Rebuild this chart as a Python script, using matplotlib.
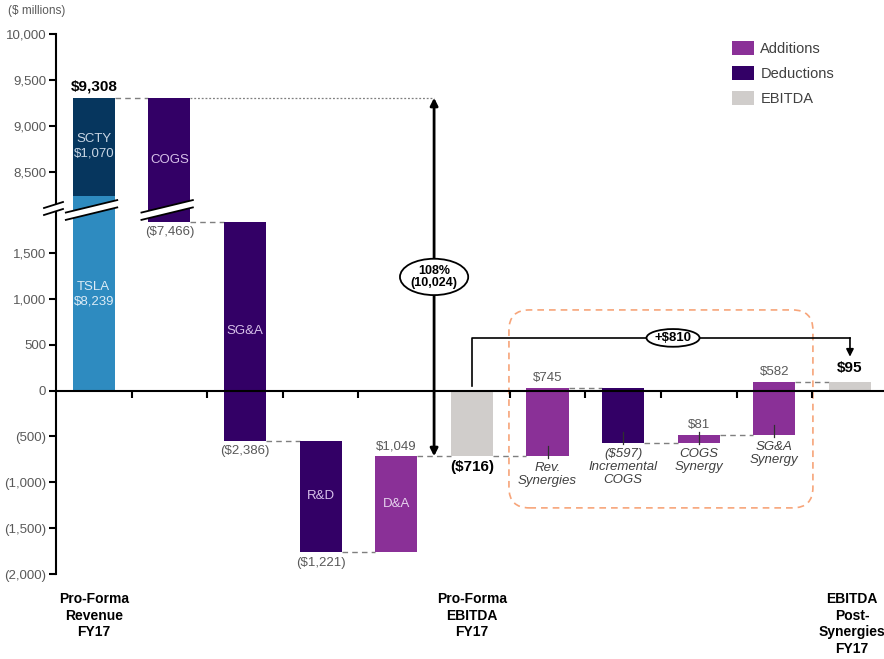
"""
Pro-forma revenue to EBITDA bridge (broken y axis waterfall)
"""

import numpy as np
import matplotlib
matplotlib.use('Agg')
from matplotlib import pyplot as plt
from matplotlib.patches import Patch, FancyBboxPatch, Polygon
from matplotlib.transforms import blended_transform_factory
from matplotlib.ticker import FuncFormatter, NullLocator

plt.rcParams['font.family'] = ['Liberation Sans', 'DejaVu Sans']

###############################################################################
# Data ($ millions)
rev_names = ['TSLA', 'SCTY']
rev_values = [8239, 1070]
rev_total = 9308          # as reported (rounded)
step_names = ['COGS', 'SG&A', 'R&D', 'D&A']
step_values = [-7466, -2386, -1221, 1049]
ebitda = -716
syn_names = ['Rev.\nSynergies', 'Incremental\nCOGS', 'COGS\nSynergy', 'SG&A\nSynergy']
syn_values = [745, -597, 81, 582]
ebitda_post = 95
bottom_labels = ['Pro-Forma\nRevenue\nFY17', 'Pro-Forma\nEBITDA\nFY17',
                 'EBITDA\nPost-\nSynergies\nFY17']
legend_labels = ['Additions', 'Deductions', 'EBITDA']
y_ticks = [-2000, -1500, -1000, -500, 0, 500, 1000, 1500,
           8500, 9000, 9500, 10000]
drop_pct = '108%'
drop_total = 10024
synergy_total = 810

TSLA_C = '#2E8BC0'
SCTY_C = '#06365E'
ADD_C = '#8A3097'
DED_C = '#330066'
GREY_C = '#D0CDCB'
TXT_C = '#595959'


def fmt(v):
    return '${:,}'.format(v) if v >= 0 else '(${:,})'.format(-v)


###############################################################################
# Broken axis: squeeze the 1,950 - 8,150 range
B1, B2, K = 1950.0, 8150.0, 0.0139


def fwd(v):
    v = np.asarray(v, float)
    return np.where(v <= B1, v,
                    np.where(v >= B2, v - (B2 - B1) * (1 - K),
                             B1 + (v - B1) * K))


def inv(t):
    t = np.asarray(t, float)
    t2 = B1 + (B2 - B1) * K
    return np.where(t <= B1, t,
                    np.where(t >= t2, t + (B2 - B1) * (1 - K),
                             B1 + (t - B1) / K))


fig = plt.figure(figsize=(8.84, 6.59), dpi=100)
ax = fig.add_axes([56 / 884, 85 / 659, 828 / 884, 539.7 / 659])
ax.set_yscale('function', functions=(fwd, inv))
ax.set_ylim(-2000, 10000)
ax.set_xlim(-0.5, 10.45)

w = 0.556

# revenue stack
ax.bar(0, rev_values[0], w, color=TSLA_C, zorder=2)
ax.bar(0, rev_total - rev_values[0], w, bottom=rev_values[0], color=SCTY_C,
       zorder=2)
level = rev_total
ends = [level]

for i, v in enumerate(step_values, 1):
    ax.bar(i, abs(v), w, bottom=min(level, level + v),
           color=ADD_C if v > 0 else DED_C, zorder=2)
    level += v
    ends.append(level)

ax.bar(5, ebitda, w, color=GREY_C, zorder=2)
ends.append(ebitda)
level = ebitda
syn_bottoms = []
for i, v in enumerate(syn_values, 6):
    b = min(level, level + v)
    syn_bottoms.append(b)
    ax.bar(i, abs(v), w, bottom=b, color=ADD_C if v > 0 else DED_C, zorder=2)
    level += v
    ends.append(level)
ax.bar(10, ebitda_post, w, color=GREY_C, zorder=2)

# connectors
for i, lev in enumerate(ends):
    ax.plot([i + w / 2, i + 1 - w / 2], [lev, lev], color='#7F7F7F',
            lw=1, ls=(0, (4, 3)), zorder=1)
ax.plot([1 + w / 2, 4.5], [ends[0], ends[0]], color='#7F7F7F', lw=0.9,
        ls=(0, (1.5, 1.5)), zorder=1)

###############################################################################
# labels inside / around bars
in_kw = dict(ha='center', va='center', fontsize=9.5, zorder=4)
ax.text(0, 8780, '{}\n{}'.format(rev_names[1], fmt(rev_values[1])),
        color='#C9D6E4', **in_kw)
ax.text(0, 1050, '{}\n{}'.format(rev_names[0], fmt(rev_values[0])),
        color='#DCEBF6', **in_kw)
ax.text(1, 8630, step_names[0], color='#D8C2EA', **in_kw)
ax.text(2, (ends[1] + ends[2]) / 2, step_names[1], color='#D8C2EA', **in_kw)
ax.text(3, (ends[2] + ends[3]) / 2, step_names[2], color='#D8C2EA', **in_kw)
ax.text(4, (ends[3] + ends[4]) / 2, step_names[3], color='#E6D3EE', **in_kw)

val_kw = dict(textcoords='offset points', ha='center', fontsize=9.5,
              color=TXT_C)
ax.annotate(fmt(rev_total), (0, ends[0]), xytext=(0, 3), va='bottom',
            fontsize=11, fontweight='bold', color='black',
            textcoords='offset points', ha='center')
for i, v in enumerate(step_values, 1):
    if v < 0:
        ax.annotate(fmt(v), (i, ends[i]), xytext=(0, -3), va='top', **val_kw)
    else:
        ax.annotate(fmt(v), (i, ends[i]), xytext=(0, 3), va='bottom', **val_kw)
ax.annotate(fmt(ebitda), (5, ebitda), xytext=(0, -3), va='top',
            fontsize=11, fontweight='bold', color='black',
            textcoords='offset points', ha='center')
ax.annotate(fmt(ebitda_post), (10, ebitda_post), xytext=(0, 5), va='bottom',
            fontsize=11, fontweight='bold', color='black',
            textcoords='offset points', ha='center')

for j, (name, v, b) in enumerate(zip(syn_names, syn_values, syn_bottoms)):
    i = 6 + j
    ax.plot([i, i], [b - 15, b + 115], color='#303030', lw=0.9, zorder=3)
    if v > 0:
        ax.annotate(fmt(v), (i, b + v), xytext=(0, 3), va='bottom', **val_kw)
        txt = name
    else:
        txt = fmt(v) + '\n' + name
    ax.annotate(txt, (i, b), xytext=(0, -4), textcoords='offset points',
                ha='center', va='top', fontsize=9.5, style='italic',
                color='#404040', linespacing=1.12)

###############################################################################
# arrows and callouts
ax.annotate('', xy=(4.5, ends[0]), xytext=(4.5, ebitda),
            arrowprops=dict(arrowstyle='<|-|>', lw=2, color='black',
                            shrinkA=0, shrinkB=0, mutation_scale=11),
            zorder=5)
ax.text(4.5, 1240, '{}\n({:,})'.format(drop_pct, drop_total), ha='center',
        va='center', fontsize=9, fontweight='bold', linespacing=1.05,
        zorder=6, bbox=dict(boxstyle='ellipse,pad=0.05', fc='white',
                            ec='black', lw=1.3))

ax.plot([5, 5, 10], [50, 575, 575], color='black', lw=1.2, zorder=5)
ax.annotate('', xy=(10, 370), xytext=(10, 575),
            arrowprops=dict(arrowstyle='-|>', lw=1.2, color='black',
                            shrinkA=0, shrinkB=0, mutation_scale=11),
            zorder=5)
ax.text(7.66, 575, '+${:,}'.format(synergy_total), ha='center', va='center',
        fontsize=9.5, fontweight='bold', zorder=6,
        bbox=dict(boxstyle='ellipse,pad=0.02', fc='white', ec='black', lw=1.3))

box = FancyBboxPatch((5.49, -1279), 4.02, 2159,
                     boxstyle='round,pad=0,rounding_size=0.27',
                     mutation_aspect=820, fc='none', ec='#F7A57A', lw=1.2,
                     ls=(0, (4, 3)), zorder=1)
ax.add_patch(box)

###############################################################################
# axis break marks
bt = blended_transform_factory(ax.transData, ax.transAxes)
yc, hh, sl = 0.6755, 0.0068, 0.034
for i in (0, 1):
    x0, x1 = i - 0.37, i + 0.31
    ylo0, ylo1 = yc - hh + sl * (x0 - i), yc - hh + sl * (x1 - i)
    yhi0, yhi1 = yc + hh + sl * (x0 - i), yc + hh + sl * (x1 - i)
    ax.add_patch(Polygon([[x0, ylo0], [x1, ylo1], [x1, yhi1], [x0, yhi0]],
                         closed=True, fc='white', ec='none', transform=bt,
                         zorder=3))
    ax.plot([x0, x1], [ylo0, ylo1], color='black', lw=1.3, transform=bt,
            zorder=4)
    ax.plot([x0, x1], [yhi0, yhi1], color='black', lw=1.3, transform=bt,
            zorder=4)

ya = lambda p: (574 - p) / 539.7
xa0, xa1 = -12 / 828, 7 / 828
ax.add_patch(Polygon([[xa0, ya(215)], [xa1, ya(209)], [xa1, ya(202)],
                      [xa0, ya(208)]], closed=True, fc='white', ec='none',
                     transform=ax.transAxes, clip_on=False, zorder=5))
ax.plot([xa0, xa1], [ya(208), ya(202)], color='black', lw=1.3,
        transform=ax.transAxes, clip_on=False, zorder=6)
ax.plot([xa0, xa1], [ya(215), ya(209)], color='black', lw=1.3,
        transform=ax.transAxes, clip_on=False, zorder=6)

###############################################################################
# axes styling
ax.set_yticks(y_ticks)
ax.yaxis.set_minor_locator(NullLocator())
ax.yaxis.set_major_formatter(FuncFormatter(
    lambda v, p: '{:,}'.format(int(v)) if v >= 0 else '({:,})'.format(int(-v))))
ax.set_xticks(np.arange(0.5, 10.5, 1))
ax.set_xticklabels([])
ax.spines['top'].set_visible(False)
ax.spines['right'].set_visible(False)
ax.spines['bottom'].set_position(('data', 0))
ax.spines['bottom'].set_linewidth(1.5)
ax.spines['left'].set_linewidth(1.5)
ax.tick_params(axis='y', length=5, width=1.5, labelsize=9.5,
               labelcolor=TXT_C, pad=2)
ax.tick_params(axis='x', length=5, width=1.5, direction='out')
ax.set_facecolor('none')

for x, lab in zip([0, 5, 10.03], bottom_labels):
    ax.text(x, -0.033, lab, transform=bt, ha='center', va='top',
            fontsize=10, fontweight='bold', linespacing=1.25)

fig.text(37 / 884, 1 - 11 / 659, '($ millions)', ha='center', va='center',
         fontsize=8.5, color=TXT_C)

handles = [Patch(facecolor=c, edgecolor='none')
           for c in (ADD_C, DED_C, GREY_C)]
leg = fig.legend(handles, legend_labels, loc='upper left',
                 bbox_to_anchor=(732 / 884, 1 - 41 / 659), frameon=False,
                 fontsize=10.5, handlelength=1.5, handleheight=1.05,
                 handletextpad=0.45, labelspacing=0.72, borderpad=0,
                 borderaxespad=0)
for t in leg.get_texts():
    t.set_color('#404040')

fig.savefig('out.png', dpi=100, facecolor='white')
